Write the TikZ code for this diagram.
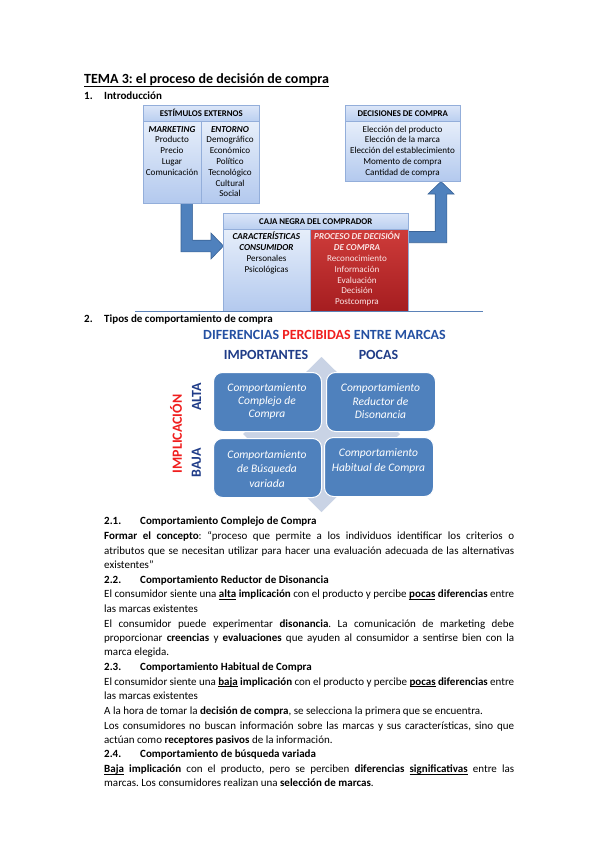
\documentclass[tikz,border=0pt]{standalone}
\usepackage{fontspec}
\setmainfont{Carlito}
\frenchspacing
\definecolor{boxtop}{HTML}{E6EEFA}
\definecolor{boxbot}{HTML}{B3C9EE}
\definecolor{hdrtop}{HTML}{DCE6F8}
\definecolor{hdrbot}{HTML}{BACFF0}
\definecolor{boxline}{HTML}{93AEDA}
\definecolor{redtop}{HTML}{CE3C3A}
\definecolor{redbot}{HTML}{A51D20}
\definecolor{redtext}{HTML}{FBE4E4}
\definecolor{arrowblue}{HTML}{4F81BD}
\definecolor{arrowline}{HTML}{3B6497}
\definecolor{matblue}{HTML}{4F81BD}
\definecolor{diamondc}{HTML}{C9D3E5}
\definecolor{titleblue}{HTML}{2450A2}
\definecolor{darkblue}{HTML}{1F3C88}
\definecolor{brightred}{HTML}{F01E1E}
\definecolor{rulec}{HTML}{5B82B8}
\newcommand{\myul}[1]{\underline{\smash{#1}}}
\tikzset{
  panel/.style={draw=boxline, line width=0.6pt, top color=boxtop, bottom color=boxbot, inner sep=0, anchor=north west},
  hdrpanel/.style={draw=boxline, line width=0.6pt, top color=hdrtop, bottom color=hdrbot, inner sep=0, anchor=north west, font=\fontsize{8.8}{10}\selectfont\bfseries},
  redpanel/.style={draw=boxline, line width=0.6pt, top color=redtop, bottom color=redbot, inner sep=0, anchor=north west},
  lst/.style={font=\fontsize{9.1}{10.8}\selectfont, align=center, inner sep=0, anchor=north},
  blockarrow/.style={fill=arrowblue, draw=arrowline, line width=0.6pt, line join=miter},
  matbox/.style={draw=white, line width=1pt, fill=matblue, rounded corners=9pt, inner sep=0, anchor=north west},
  mattxt/.style={font=\fontsize{11.5}{13.3}\selectfont\itshape, text=white, align=center, inner sep=0},
  body/.style={font=\fontsize{11}{13}\selectfont, inner sep=0, anchor=base west},
  big/.style={font=\fontsize{14}{16}\selectfont\bfseries, inner sep=0},
}
\begin{document}
\begin{tikzpicture}[x=1pt,y=-1pt]
\useasboundingbox (0,0) rectangle (599,848);
\fill[white] (0,0) rectangle (599,848);

% Title
\node[big, anchor=base west] (title) at (84,84) {TEMA 3: el proceso de decisión de compra};
\draw[line width=0.8pt] ([yshift=-2pt]title.base west) -- ([yshift=-2pt]title.base east);
\node[body, font=\fontsize{11}{13}\selectfont\bfseries] (s1) at (84,99.5) {\makebox[20pt][l]{1.}Introducción};

% Arrows (behind boxes)
\draw[blockarrow] (181,202) -- (181,251.8) -- (211,251.8) -- (211,259) -- (223.5,246) -- (211,233) -- (211,240.2) -- (192.6,240.2) -- (192.6,202) -- cycle;
\draw[blockarrow] (405,231.5) -- (435.2,231.5) -- (435.2,194) -- (428,194) -- (441,181.5) -- (454,194) -- (446.8,194) -- (446.8,242.7) -- (405,242.7) -- cycle;

% Estimulos externos
\node[hdrpanel, minimum width=116pt, minimum height=16pt] (eh) at (143,105) {ESTÍMULOS EXTERNOS};
\node[panel, minimum width=58pt, minimum height=82pt] (ecl) at (143,121) {};
\node[panel, minimum width=58pt, minimum height=82pt] (ecr) at (201,121) {};
\node[lst] (mk) at (172,126) {\textbf{\textit{MARKETING}}\\Producto\\Precio\\Lugar\\Comunicación};
\node[lst] (en) at (230,126) {\textbf{\textit{ENTORNO}}\\Demográfico\\Económico\\Político\\Tecnológico\\Cultural\\Social};

% Decisiones de compra
\node[hdrpanel, minimum width=115pt, minimum height=16pt] (dh) at (345,105) {DECISIONES DE COMPRA};
\node[panel, minimum width=115pt, minimum height=60pt] (db) at (345,121) {};
\node[lst] (dl) at (402.5,125.5) {Elección del producto\\Elección de la marca\\Elección del establecimiento\\Momento de compra\\Cantidad de compra};

% Caja negra
\node[hdrpanel, minimum width=185pt, minimum height=16pt] (ch) at (223,213) {CAJA NEGRA DEL COMPRADOR};
\node[panel, minimum width=87pt, minimum height=82pt] (ccl) at (223,229) {};
\node[redpanel, minimum width=98pt, minimum height=82pt] (ccr) at (310,229) {};
\node[lst] (cc) at (266.5,232) {\textbf{\textit{CARACTERÍSTICAS}}\\\textbf{\textit{CONSUMIDOR}}\\Personales\\Psicológicas};
\node[lst, text=redtext] (pd) at (357,232) {\textbf{\textit{PROCESO DE DECISIÓN}}\\\textbf{\textit{DE COMPRA}}\\Reconocimiento\\Información\\Evaluación\\Decisión\\Postcompra};

\coordinate (rl) at (135,311.5);
\coordinate (rr) at (483,311.5);
\draw[rulec, line width=0.8pt] (rl) -- (rr);

% Section 2
\node[body, font=\fontsize{11}{13}\selectfont\bfseries] (s2) at (84,322.5) {\makebox[20pt][l]{2.}Tipos de comportamiento de compra};
\node[big, text=titleblue] (dif) at (324.5,335) {DIFERENCIAS \textcolor{brightred}{PERCIBIDAS} ENTRE MARCAS};
\node[big, text=darkblue] (imp) at (266,355) {IMPORTANTES};
\node[big, text=darkblue] (poc) at (378.5,355) {POCAS};

% Matrix
\fill[diamondc] (321.5,357) -- (400,434) -- (321.5,512) -- (243,434) -- cycle;
\node[matbox, minimum width=108pt, minimum height=59pt] (tl) at (213,372) {};
\node[matbox, minimum width=109pt, minimum height=59pt] (tr) at (326,372) {};
\node[matbox, minimum width=108pt, minimum height=59pt] (bl) at (213,438) {};
\node[matbox, minimum width=109pt, minimum height=59pt] (br) at (324,437) {};
\node[mattxt] (tlt) at (267,401.3) {Comportamiento\\Complejo de\\Compra};
\node[mattxt] (trt) at (380.5,401.3) {Comportamiento\\Reductor de\\Disonancia};
\node[mattxt, font=\fontsize{11.5}{14.8}\selectfont\itshape] (blt) at (267,469) {Comportamiento\\de Búsqueda\\variada};
\node[mattxt, font=\fontsize{11.5}{14.5}\selectfont\itshape] (brt) at (378.5,461) {Comportamiento\\Habitual de Compra};
\node[big, text=brightred, rotate=90] (impl) at (176,434) {IMPLICACIÓN};
\node[big, text=darkblue, rotate=90] (alta) at (196.5,397) {ALTA};
\node[big, text=darkblue, rotate=90] (baja) at (196.5,463) {BAJA};

% Body text
\node[body] (l1) at (104,524.3) {\textbf{\makebox[36pt][l]{2.1.}Comportamiento Complejo de Compra}};
\node[body] (l2) at (104,539.3) {\makebox[410pt][s]{\textbf{Formar el concepto}: “proceso que permite a los individuos identificar los criterios o}};
\node[body] (l3) at (104,554.2) {\makebox[410pt][s]{atributos que se necesitan utilizar para hacer una evaluación adecuada de las alternativas}};
\node[body] (l4) at (104,568.2) {existentes”};
\node[body] (l5) at (104,583.2) {\textbf{\makebox[36pt][l]{2.2.}Comportamiento Reductor de Disonancia}};
\node[body] (l6) at (104,597.5) {\makebox[410pt][s]{El consumidor siente una \myul{\textbf{alta}} \textbf{implicación} con el producto y percibe \myul{\textbf{pocas}} \textbf{diferencias} entre}};
\node[body] (l7) at (104,612.2) {las marcas existentes};
\node[body] (l8) at (104,627) {\makebox[410pt][s]{El consumidor puede experimentar \textbf{disonancia}. La comunicación de marketing debe}};
\node[body] (l9) at (104,641.3) {\makebox[410pt][s]{proporcionar \textbf{creencias} y \textbf{evaluaciones} que ayuden al consumidor a sentirse bien con la}};
\node[body] (l10) at (104,655.5) {marca elegida.};
\node[body] (l11) at (104,670.3) {\textbf{\makebox[36pt][l]{2.3.}Comportamiento Habitual de Compra}};
\node[body] (l12) at (104,685) {\makebox[410pt][s]{El consumidor siente una \myul{\textbf{baja}} \textbf{implicación} con el producto y percibe \myul{\textbf{pocas}} \textbf{diferencias} entre}};
\node[body] (l13) at (104,699.3) {las marcas existentes};
\node[body] (l14) at (104,714) {A la hora de tomar la \textbf{decisión de compra}, se selecciona la primera que se encuentra.};
\node[body] (l15) at (104,729.2) {\makebox[410pt][s]{Los consumidores no buscan información sobre las marcas y sus características, sino que}};
\node[body] (l16) at (104,743.3) {actúan como \textbf{receptores pasivos} de la información.};
\node[body] (l17) at (104,757.8) {\textbf{\makebox[36pt][l]{2.4.}Comportamiento de búsqueda variada}};
\node[body] (l18) at (104,772.3) {\makebox[410pt][s]{\myul{\textbf{Baja}} \textbf{implicación} con el producto, pero se perciben \textbf{diferencias} \myul{\textbf{significativas}} entre las}};
\node[body] (l19) at (104,786.5) {marcas. Los consumidores realizan una \textbf{selección de marcas}.};
\end{tikzpicture}
\end{document}
